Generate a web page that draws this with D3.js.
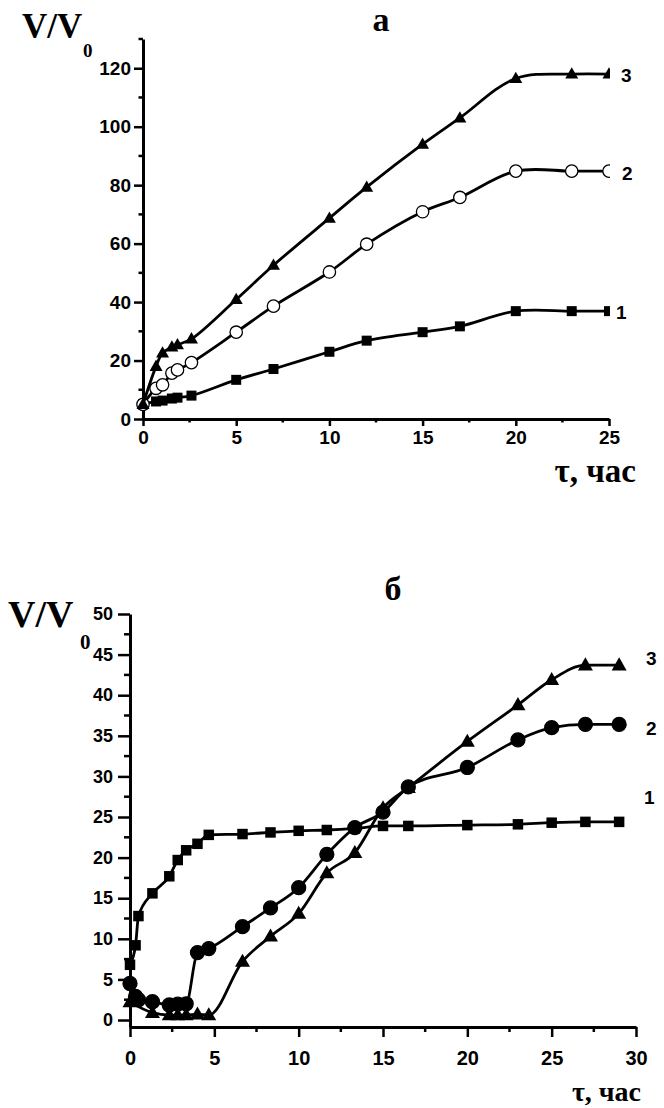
<!DOCTYPE html>
<html><head><meta charset="utf-8">
<script src="https://cdn.jsdelivr.net/npm/d3@7"></script>
<style>
body{margin:0;background:#fff;}
svg{display:block;}
.tick text{font-family:"Liberation Sans",Arial,sans-serif;font-weight:bold;}
.serif{font-family:"Liberation Serif","Times New Roman",serif;font-weight:bold;}
.lab{font-family:"Liberation Sans",Arial,sans-serif;font-weight:bold;}
</style></head>
<body>
<svg id="c" width="664" height="1108"></svg>
<script>
// ---- Panel а ----
const tA = [0, 0.7, 1.05, 1.55, 1.85, 2.6, 5, 7, 10, 12, 15, 17, 20, 23, 25];
const a1 = [5, 6, 6.3, 7, 7.3, 8, 13.4, 17.1, 23, 26.8, 29.7, 31.7, 36.9, 36.9, 36.9];
const a2 = [5, 10.5, 11.7, 15.7, 16.8, 19.3, 29.7, 38.6, 50.3, 59.8, 70.9, 75.8, 84.8, 84.8, 84.8];
const a3 = [5, 18, 22.6, 24.6, 25.4, 27.4, 40.9, 52.6, 68.7, 79.3, 94, 103, 116.5, 118, 118];
const aXTicks = [0, 5, 10, 15, 20, 25];
const aYTicks = [0, 20, 40, 60, 80, 100, 120];

// ---- Panel б ----
const tB = [0, 0.33, 0.5, 1.33, 2.33, 2.83, 3.33, 4, 4.67, 6.67, 8.33, 10, 11.67, 13.33, 15, 16.5, 20, 23, 25, 27, 29];
const b1 = [6.8, 9.2, 12.8, 15.6, 17.7, 19.7, 20.9, 21.7, 22.8, 22.9, 23.1, 23.3, 23.4, 23.6, 23.9, 23.9, 24.0, 24.1, 24.3, 24.4, 24.4];
const b2 = [4.5, 2.9, 2.5, 2.25, 1.85, 1.95, 2.0, 8.3, 8.8, 11.5, 13.8, 16.3, 20.4, 23.7, 25.6, 28.7, 31.1, 34.5, 36.0, 36.4, 36.4];
const tB3 = [0, 1.33, 2.33, 2.83, 3.33, 4, 4.67, 6.67, 8.33, 10, 11.67, 13.33, 15, 16.5, 20, 23, 25, 27, 29];
const b3 = [2.2, 0.9, 0.6, 0.6, 0.6, 0.7, 0.6, 7.2, 10.3, 13.1, 18.1, 20.6, 26.1, 28.6, 34.3, 38.8, 41.9, 43.7, 43.7];
const bXTicks = [0, 5, 10, 15, 20, 25, 30];
const bYTicks = [0, 5, 10, 15, 20, 25, 30, 35, 40, 45, 50];

const svg = d3.select("#c");

function sq(g, x, y, s){ g.append("rect").attr("x", x - s/2).attr("y", y - s/2).attr("width", s).attr("height", s).attr("fill", "#000"); }
function tri(g, x, y, s){ const h = s*0.87; g.append("path").attr("d", `M${x},${y - h*0.6}L${x + s/2},${y + h*0.4}L${x - s/2},${y + h*0.4}Z`).attr("fill", "#000"); }
function circ(g, x, y, r, open){ g.append("circle").attr("cx", x).attr("cy", y).attr("r", r).attr("fill", open ? "#fff" : "#000").attr("stroke", "#000").attr("stroke-width", 1.3); }

function panel(o){
  const g = svg.append("g");
  const x = d3.scaleLinear().domain(o.xd).range(o.xr);
  const y = d3.scaleLinear().domain(o.yd).range(o.yr);
  const cid = "clip" + o.id;
  svg.append("clipPath").attr("id", cid).append("rect")
    .attr("x", 0).attr("y", 0).attr("width", o.clipX).attr("height", 1108);
  const xAx = g.append("g").attr("transform", `translate(0,${o.xAxisY})`)
    .call(d3.axisBottom(x).tickValues(o.xticks).tickSize(o.xTick).tickSizeOuter(0).tickPadding(o.xPad));
  const yAx = g.append("g").attr("transform", `translate(${o.xr[0]},0)`)
    .call(d3.axisLeft(y).tickValues(o.yticks).tickSize(o.yTick).tickSizeOuter(0).tickPadding(o.yPad));
  xAx.selectAll(".tick text").attr("font-size", o.xFont);
  yAx.selectAll(".tick text").attr("font-size", o.yFont);
  [xAx, yAx].forEach(a => { a.select(".domain").attr("stroke-width", 3); a.selectAll(".tick line").attr("stroke-width", 2.5); });
  const xm = o.xticks.slice(0, -1).map(v => v + o.xMinor);
  g.selectAll(".xm").data(xm).join("line").attr("x1", d => x(d)).attr("x2", d => x(d))
    .attr("y1", o.xAxisY).attr("y2", o.xAxisY + o.xTick/2).attr("stroke", "#000").attr("stroke-width", 2.5);
  const ym = o.yticks.slice(0, -1).map(v => v + o.yMinor).concat(o.yExtraMinor || []);
  g.selectAll(".ym").data(ym).join("line").attr("y1", d => y(d)).attr("y2", d => y(d))
    .attr("x1", o.xr[0]).attr("x2", o.xr[0] - o.yTick/2).attr("stroke", "#000").attr("stroke-width", 2.5);
  const plot = g.append("g").attr("clip-path", `url(#${cid})`);
  o.series.forEach(s => {
    const pts = s.t.map((t, i) => [t, s.v[i]]);
    plot.append("path").attr("d", d3.line().x(d => x(d[0])).y(d => y(d[1])).curve(o.curve)(pts))
      .attr("fill", "none").attr("stroke", "#000").attr("stroke-width", 2.8);
    pts.forEach(p => {
      const px = x(p[0]), py = y(p[1]);
      if (s.m === "sq") sq(plot, px, py, o.sqs);
      else if (s.m === "tri") tri(plot, px, py, o.tris);
      else circ(plot, px, py, o.cr, s.m === "oc");
    });
  });
  return {x, y};
}

panel({id:"a", xd:[0,25], xr:[143,609], yd:[0,130], yr:[419,39], xAxisY:419,
  xticks:aXTicks, yticks:aYTicks, xMinor:2.5, yMinor:10, yExtraMinor:[130], clipX:610,
  xTick:7, xPad:5, yTick:9, yPad:3, xFont:19, yFont:19,
  sqs:10, tris:13, cr:6.2, curve:d3.curveCatmullRom,
  series:[{t:tA, v:a1, m:"sq"}, {t:tA, v:a2, m:"oc"}, {t:tA, v:a3, m:"tri"}]});

panel({id:"b", xd:[0,30], xr:[130,636], yd:[-0.86,50], yr:[1027,614], xAxisY:1027,
  xticks:bXTicks, yticks:bYTicks, xMinor:2.5, yMinor:2.5, clipX:664,
  xTick:10, xPad:14, yTick:12, yPad:5, xFont:20, yFont:18,
  sqs:10.5, tris:15, cr:7, curve:d3.curveMonotoneX,
  series:[{t:tB, v:b1, m:"sq"}, {t:tB, v:b2, m:"fc"}, {t:tB3, v:b3, m:"tri"}]});

function txt(x, y, s, cls, size, anchor){ return svg.append("text").attr("x", x).attr("y", y).attr("class", cls).attr("font-size", size).attr("text-anchor", anchor || "start").text(s); }
// panel а
txt(381, 31, "а", "serif", 34, "middle");
txt(22, 38, "V/V", "serif", 35);
txt(83, 57, "0", "serif", 19);
txt(636, 482, "τ, час", "serif", 33, "end");
txt(621, 82, "3", "lab", 19);
txt(622, 180, "2", "lab", 19);
txt(616, 319, "1", "lab", 19).attr("font-weight", "normal");
// panel б
txt(393, 600, "б", "serif", 34, "middle");
txt(8, 627, "V/V", "serif", 38);
txt(80, 649, "0", "serif", 21);
txt(641, 1101, "τ, час", "serif", 28, "end");
txt(646, 665, "3", "lab", 19);
txt(646, 735, "2", "lab", 19);
txt(644, 804, "1", "lab", 19).attr("font-weight", "normal");
</script>
</body></html>
